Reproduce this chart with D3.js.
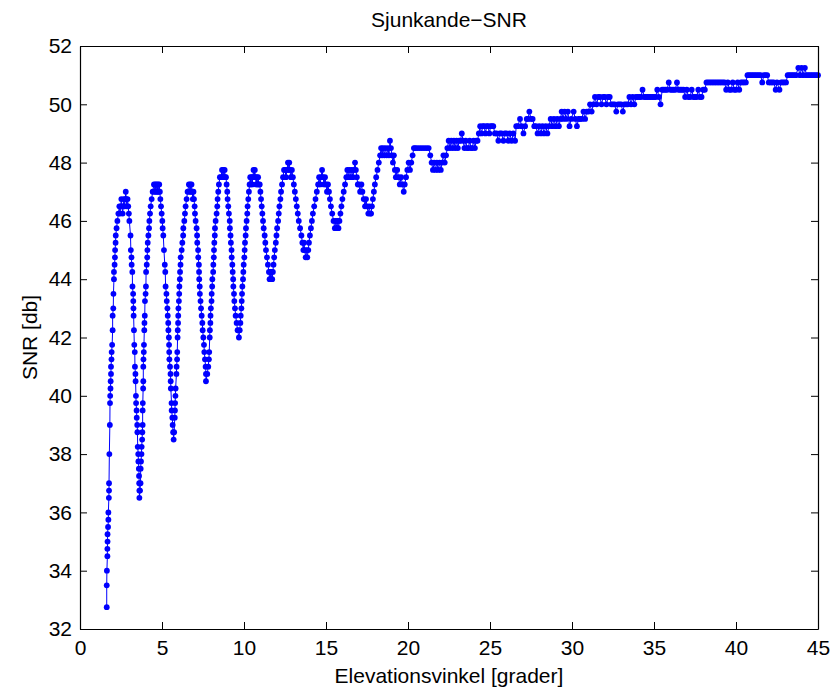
<!DOCTYPE html>
<html>
<head>
<meta charset="utf-8">
<script src="https://cdnjs.cloudflare.com/ajax/libs/d3/7.8.5/d3.min.js"></script>
<style>
  body { margin: 0; background: #fff; }
  text { font-family: "Liberation Sans", Arial, sans-serif; }
</style>
</head>
<body>
<div id="chart"></div>
<script>
var chartTitle = "Sjunkande\u2212SNR";
var xLabel = "Elevationsvinkel [grader]";
var yLabel = "SNR [db]";
var xTicks = [0, 5, 10, 15, 20, 25, 30, 35, 40, 45];
var yTicks = [32, 34, 36, 38, 40, 42, 44, 46, 48, 50, 52];

// [elevation (deg), snr (db)] - oscillating part, low elevations
var lowSamples = [
  [1.63,32.75],[1.63,33.5],[1.64,34],[1.67,34.5],[1.67,34.75],[1.68,35],[1.68,35.25],[1.71,35.5],[1.73,35.75],[1.73,36],
  [1.76,36.5],[1.77,36.75],[1.77,37],[1.79,38],[1.82,39],[1.83,39.75],[1.84,40],[1.86,40.25],[1.87,40.5],[1.89,40.75],
  [1.89,41],[1.92,41.25],[1.93,41.5],[1.96,41.75],[1.99,42.25],[1.99,42.75],[2.03,43],[2.04,43.5],[2.07,44],[2.07,44.25],
  [2.11,44.5],[2.13,44.75],[2.14,45],[2.17,45.25],[2.18,45.5],[2.23,45.75],[2.28,46],[2.34,46.25],[2.4,46.5],
  [2.44,46.25],[2.48,46.5],[2.52,46.75],[2.56,46.5],[2.6,46.25],[2.64,46.5],[2.68,46.75],[2.72,46.5],[2.76,46.75],[2.79,47],
  [2.82,46.75],[2.86,46.5],[2.9,46.75],[2.94,46.5],[2.98,46.25],
  [3.01,46],[3.08,45.5],[3.1,45],[3.14,44.75],[3.15,44.5],[3.19,44.25],[3.2,43.75],[3.24,43.5],[3.25,43.25],[3.26,43],
  [3.27,42.75],[3.29,42.25],[3.31,41.75],[3.34,41.5],[3.35,41],[3.38,40.75],[3.39,40.5],[3.41,40],[3.42,39.75],[3.45,39.5],
  [3.46,39.25],[3.49,39],[3.5,38.75],[3.52,38.25],[3.55,38],[3.56,37.75],[3.59,37.5],[3.6,37.25],[3.61,37],[3.62,36.75],[3.62,36.5],
  [3.66,36.75],[3.69,37],[3.7,37.5],[3.72,37.75],[3.75,38],[3.76,38.25],[3.79,38.5],[3.8,38.75],[3.82,39],[3.82,39.5],
  [3.83,39.75],[3.85,40.25],[3.86,40.5],[3.86,41],[3.87,41.25],[3.89,41.5],[3.9,41.75],[3.92,42.25],[3.93,42.5],[3.95,42.75],
  [3.96,43.25],[4.0,43.5],[4.02,43.75],[4.03,44.25],[4.07,44.5],[4.1,44.75],[4.11,45],[4.13,45.25],[4.17,45.5],[4.21,45.75],
  [4.23,46],[4.27,46.25],[4.31,46.5],[4.37,46.75],[4.43,47],[4.51,47.25],
  [4.55,47],[4.59,47.25],[4.63,47],[4.67,47.25],[4.71,47],[4.75,47.25],[4.79,47],[4.83,47.25],[4.87,47],
  [4.9,46.75],[4.94,46.5],[4.98,46.25],[5.02,46],[5.04,45.75],[5.08,45.5],[5.12,45],[5.17,44.5],[5.2,44.25],[5.22,43.75],
  [5.27,43.5],[5.29,43.25],[5.33,43],[5.35,42.75],[5.38,42.5],[5.39,42.25],[5.42,42],[5.43,41.75],[5.44,41.5],[5.45,41.25],
  [5.49,41],[5.52,40.75],[5.53,40.5],[5.54,40.25],[5.58,39.75],[5.59,39.5],[5.63,39.25],[5.65,39],[5.68,38.75],[5.71,38.5],
  [5.74,38.75],[5.78,39.25],[5.79,39.5],[5.8,39.75],[5.82,40],[5.83,40.25],[5.88,40.75],[5.89,41],[5.92,41.25],[5.93,41.5],
  [5.95,42],[5.96,42.25],[5.98,42.5],[5.99,42.75],[6.0,43],[6.03,43.25],[6.05,43.5],[6.06,43.75],[6.09,44],[6.1,44.25],
  [6.13,44.5],[6.14,44.75],[6.2,45],[6.24,45.25],[6.29,45.5],[6.3,45.75],[6.36,46],[6.4,46.25],[6.44,46.5],[6.5,46.75],
  [6.56,47],[6.64,47.25],
  [6.68,47],[6.72,47.25],[6.76,47],[6.8,47.25],[6.84,47],[6.88,46.75],[6.92,47],[6.95,46.75],
  [6.99,46.5],[7.01,46.25],[7.05,46],[7.11,45.75],[7.14,45.5],[7.15,45.25],[7.2,45],[7.21,44.75],[7.25,44.5],[7.26,44.25],
  [7.27,44],[7.3,43.75],[7.31,43.5],[7.35,43.25],[7.38,43],[7.42,42.75],[7.46,42.5],[7.48,42.25],[7.52,42],[7.56,41.75],
  [7.58,41.5],[7.62,41.25],[7.66,41],[7.68,40.75],[7.68,40.5],
  [7.76,40.75],[7.82,41],[7.86,41.25],[7.88,41.5],[7.91,42],[7.92,42.25],[7.95,42.5],[7.96,42.75],[7.98,43],[8.02,43.25],
  [8.03,43.5],[8.06,43.75],[8.07,44],[8.12,44.25],[8.13,44.5],[8.16,44.75],[8.17,45],[8.19,45.25],[8.22,45.5],[8.23,45.75],
  [8.27,46],[8.33,46.25],[8.37,46.5],[8.39,46.75],[8.43,47],[8.47,47.25],[8.53,47.5],[8.6,47.5],[8.66,47.75],
  [8.7,47.5],[8.74,47.75],[8.78,47.5],[8.82,47.75],[8.86,47.5],[8.9,47.5],
  [8.94,47.25],[8.98,47],[9.0,46.75],[9.04,46.5],[9.08,46.25],[9.13,46],[9.14,45.75],[9.18,45.5],[9.2,45.25],[9.24,45],
  [9.25,44.75],[9.29,44.5],[9.31,44.25],[9.34,44],[9.35,43.75],[9.39,43.5],[9.41,43.25],[9.45,43],[9.49,42.75],[9.55,42.5],
  [9.61,42.25],[9.69,42],
  [9.74,42.25],[9.78,42.5],[9.8,42.75],[9.84,43],[9.86,43.25],[9.88,43.5],[9.9,43.75],[9.94,44],[9.96,44.25],[9.98,44.5],
  [10.02,44.75],[10.04,45],[10.06,45.25],[10.1,45.5],[10.12,45.75],[10.16,46],[10.2,46.25],[10.22,46.5],[10.26,46.75],[10.3,47],
  [10.34,47.25],
  [10.38,47.5],[10.42,47.25],[10.46,47.5],[10.5,47.25],[10.54,47.5],[10.58,47.75],[10.62,47.5],[10.66,47.75],[10.7,47.5],[10.74,47.25],
  [10.78,47.5],[10.82,47.25],[10.86,47.5],[10.9,47.25],[10.96,47.25],[11.0,47],
  [11.04,46.75],[11.08,46.5],[11.12,46.25],[11.16,46],[11.2,45.75],[11.26,45.5],[11.3,45.25],[11.34,45],[11.4,44.75],[11.46,44.5],
  [11.52,44.25],[11.56,44],[11.6,44.25],[11.64,44],[11.68,44.25],[11.72,44],
  [11.76,44.25],[11.8,44.5],[11.84,44.75],[11.88,45],[11.94,45.25],[11.98,45.5],[12.02,45.75],[12.08,46],[12.12,46.25],[12.16,46.5],
  [12.22,46.75],[12.26,47],[12.32,47.25],[12.38,47.5],[12.44,47.75],
  [12.5,47.75],[12.56,47.5],[12.62,47.75],[12.68,48],[12.72,47.75],[12.76,48],[12.8,47.75],[12.86,47.5],[12.92,47.75],[12.98,47.5],
  [13.04,47.25],[13.1,47],[13.16,46.75],[13.22,46.5],[13.28,46.25],[13.34,46],[13.42,45.75],[13.5,45.5],[13.56,45.25],[13.62,45],
  [13.66,45.25],[13.7,45],[13.76,44.75],[13.82,45],[13.86,44.75],
  [13.92,45],[13.96,45.25],[14.02,45.5],[14.08,45.75],[14.14,46],[14.2,46.25],[14.28,46.5],[14.36,46.75],[14.44,47],[14.52,47.25],
  [14.58,47.5],[14.64,47.25],[14.7,47.5],[14.76,47.75],[14.82,47.5],[14.88,47.25],[14.94,47.5],
  [15.0,47.25],[15.06,47],[15.12,47.25],[15.18,47],[15.24,46.75],[15.3,46.5],[15.38,46.25],[15.46,46],[15.54,45.75],[15.6,46],
  [15.66,45.75],[15.72,46],[15.76,45.75],
  [15.82,46],[15.88,46.25],[15.94,46.5],[16.0,46.75],[16.08,47],[16.16,47.25],[16.24,47.5],[16.3,47.75],
  [16.36,47.5],[16.42,47.75],[16.5,47.5],[16.56,47.75],[16.64,47.5],[16.7,47.75],[16.77,48],[16.82,47.75],[16.88,47.5],[16.94,47.25],
  [17.0,47.25],[17.08,47],[17.16,47.25],[17.22,47],[17.3,46.75],[17.38,46.5],[17.44,46.75],[17.5,46.5],[17.58,46.25],[17.64,46.5],
  [17.7,46.25],[17.75,46.25],
  [17.8,46.5],[17.86,46.75],[17.92,47],[17.98,47.25],[18.06,47.5],[18.14,47.75],[18.22,48],[18.3,48.25],
  [18.36,48.5],[18.42,48.25],[18.48,48.5],[18.56,48.25],[18.62,48.5],[18.7,48.25],[18.78,48.5],[18.84,48.25],[18.9,48.75],[18.96,48.5],
  [19.02,48.25],[19.08,48],[19.14,48.25],[19.2,47.75],
  [19.26,47.5],[19.34,47.75],[19.42,47.5],[19.5,47.25],[19.58,47.5],[19.66,47.25],[19.74,47],[19.8,47.25],
  [19.88,47.5],[19.96,47.75],[20.04,48],[20.12,47.75],[20.2,48],[20.28,48.25],[20.36,48.5]
];

// [elevation (deg), snr (db)] - stepped part, high elevations
var highSamples = [
  [20.44,48.5],[20.56,48.5],[20.7,48.5],[20.84,48.5],[20.98,48.5],[21.12,48.5],[21.26,48.5],
  [21.36,48.25],[21.44,48],[21.52,47.75],[21.6,48],[21.68,47.75],[21.76,48],[21.84,47.75],[21.92,48],[22.0,47.75],
  [22.08,48],[22.16,48.25],[22.24,48],[22.32,48.25],[22.4,48.5],[22.48,48.75],[22.56,48.5],[22.64,48.75],[22.72,48.5],[22.8,48.75],
  [22.88,48.5],[22.96,48.75],[23.04,48.5],[23.12,48.75],[23.2,48.75],[23.28,49],[23.36,48.75],[23.44,48.5],[23.52,48.75],[23.6,48.5],
  [23.68,48.5],[23.76,48.75],[23.84,48.5],[23.92,48.5],[24.0,48.75],[24.08,48.5],[24.16,48.75],[24.24,48.75],[24.32,49],[24.4,49.25],
  [24.48,49],[24.56,49.25],[24.64,49.25],[24.72,49],[24.8,49.25],[24.88,49.25],[24.96,49],[25.04,49.25],[25.12,49.25],[25.2,49.25],
  [25.3,49],[25.4,49],[25.51,48.75],[25.6,49],[25.7,49],[25.82,48.75],[25.9,49],[26.0,49],[26.12,48.75],[26.2,49],
  [26.32,48.75],[26.42,49],[26.53,48.75],[26.6,49.25],[26.7,49.25],[26.83,49.5],[26.92,49.25],[27.04,49],[27.14,49.25],[27.24,49.5],
  [27.32,49.5],[27.4,49.75],[27.5,49.5],[27.6,49.5],[27.7,49.25],[27.8,49.25],[27.9,49],[28.0,49.25],[28.1,49],[28.2,49.25],
  [28.3,49],[28.4,49.25],[28.5,49],[28.6,49.25],[28.7,49.5],[28.8,49.25],[28.9,49.5],[29.0,49.25],[29.1,49.5],[29.2,49.25],
  [29.3,49.5],[29.37,49.75],[29.45,49.5],[29.55,49.75],[29.65,49.5],[29.75,49.75],[29.85,49.25],[29.95,49.5],[30.1,49.75],[30.2,49.5],
  [30.3,49.25],[30.4,49.5],[30.5,49.5],[30.6,49.5],[30.7,49.75],[30.8,49.5],[30.9,49.75],[31.0,49.75],[31.1,50],[31.2,49.75],
  [31.3,50],[31.4,50.25],[31.5,50],[31.6,50.25],[31.7,50.25],[31.8,50],[31.9,50.25],[32.0,50.25],[32.1,50],[32.2,50.25],
  [32.3,50.25],[32.4,50],[32.5,50],[32.6,50],[32.7,49.75],[32.8,50],[32.9,50],[33.0,50],[33.1,49.75],[33.2,50],
  [33.3,50],[33.4,50],[33.5,50.25],[33.6,50],[33.7,50.25],[33.8,50],[33.9,50.25],[34.0,50.25],[34.1,50.25],[34.2,50.25],
  [34.3,50.5],[34.4,50.25],[34.5,50.25],[34.6,50.25],[34.7,50.25],[34.8,50.25],[34.9,50.25],[35.0,50.25],[35.1,50.25],[35.2,50.5],
  [35.3,50.25],[35.4,50],[35.5,50.5],[35.6,50.5],[35.7,50.5],[35.8,50.5],[35.9,50.75],[36.0,50.5],[36.1,50.5],[36.2,50.5],
  [36.3,50.5],[36.4,50.75],[36.5,50.5],[36.6,50.5],[36.7,50.5],[36.8,50.5],[36.9,50.25],[37.0,50.5],[37.1,50.25],[37.2,50.25],
  [37.3,50.5],[37.4,50.25],[37.5,50.25],[37.6,50.25],[37.7,50.5],[37.8,50.25],[37.9,50.25],[38.0,50.5],[38.1,50.5],[38.2,50.75],
  [38.3,50.75],[38.4,50.75],[38.5,50.75],[38.6,50.75],[38.7,50.75],[38.8,50.75],[38.9,50.75],[39.0,50.75],[39.1,50.75],[39.2,50.75],
  [39.3,50.75],[39.4,50.5],[39.5,50.75],[39.6,50.5],[39.7,50.5],[39.8,50.75],[39.9,50.5],[40.0,50.5],[40.1,50.75],[40.2,50.5],
  [40.3,50.75],[40.4,50.75],[40.5,50.75],[40.6,50.75],[40.7,51],[40.8,51],[40.9,51],[41.0,51],[41.1,51],[41.2,51],
  [41.3,51],[41.4,51],[41.5,51],[41.6,50.75],[41.7,51],[41.8,51],[41.9,51],[42.0,50.75],[42.1,50.75],[42.2,50.75],
  [42.3,50.75],[42.42,50.5],[42.5,50.75],[42.65,50.5],[42.75,50.75],[42.85,50.75],[42.95,50.75],[43.05,50.75],[43.15,51],[43.25,51],
  [43.35,51],[43.45,51],[43.55,51],[43.65,51],[43.8,51.25],[43.9,51],[44.0,51.25],[44.1,51],[44.2,51.25],[44.3,51],
  [44.4,51],[44.5,51],[44.6,51],[44.7,51],[44.8,51],[44.9,51],[45.0,51]
];

var samples = lowSamples.concat(highSamples);

var margin = {top: 46, right: 17, bottom: 64, left: 80};
var width = 835 - margin.left - margin.right,
    height = 693 - margin.top - margin.bottom;
var fontSize = 21;

var svg = d3.select("#chart")
  .append("svg")
  .attr("width", 835)
  .attr("height", 693)
  .style("display", "block");

var g = svg.append("g")
  .attr("transform", "translate(" + margin.left + "," + margin.top + ")");

var x = d3.scaleLinear().domain([0, 45]).range([0, width]);
var y = d3.scaleLinear().domain([32, 52]).range([height, 0]);

// data line + dot markers
var line = d3.line()
  .x(function(d) { return x(d[0]); })
  .y(function(d) { return y(d[1]); });

g.append("path")
  .datum(samples)
  .attr("fill", "none")
  .attr("stroke", "#0000ff")
  .attr("stroke-width", 1)
  .attr("d", line);

g.selectAll(".dot")
  .data(samples)
  .enter()
  .append("circle")
  .attr("class", "dot")
  .attr("cx", function(d) { return x(d[0]); })
  .attr("cy", function(d) { return y(d[1]); })
  .attr("r", 2.9)
  .attr("fill", "#0000ff");

// axes, ticks pointing inside like matlab
function styleAxis(sel) {
  sel.attr("font-size", fontSize)
    .attr("font-family", "Liberation Sans, Arial, sans-serif");
  sel.select(".domain").attr("stroke", "#000").attr("stroke-width", 1.2);
  sel.selectAll(".tick line").attr("stroke", "#000");
  sel.selectAll(".tick text").attr("fill", "#000");
}

g.append("g")
  .attr("transform", "translate(0," + height + ")")
  .call(d3.axisBottom(x).tickValues(xTicks).tickSizeInner(-7).tickSizeOuter(0).tickPadding(11))
  .call(styleAxis);

g.append("g")
  .call(d3.axisTop(x).tickValues(xTicks).tickSizeInner(-7).tickSizeOuter(0).tickFormat(""))
  .call(styleAxis);

g.append("g")
  .call(d3.axisLeft(y).tickValues(yTicks).tickSizeInner(-7).tickSizeOuter(0).tickPadding(8))
  .call(styleAxis);

g.append("g")
  .attr("transform", "translate(" + width + ",0)")
  .call(d3.axisRight(y).tickValues(yTicks).tickSizeInner(-7).tickSizeOuter(0).tickFormat(""))
  .call(styleAxis);

// titles
svg.append("text")
  .attr("x", margin.left + width / 2)
  .attr("y", 27)
  .attr("text-anchor", "middle")
  .attr("font-size", fontSize)
  .text(chartTitle);

svg.append("text")
  .attr("x", margin.left + width / 2)
  .attr("y", 683)
  .attr("text-anchor", "middle")
  .attr("font-size", fontSize)
  .text(xLabel);

svg.append("text")
  .attr("transform", "translate(37," + (margin.top + height / 2) + ") rotate(-90)")
  .attr("text-anchor", "middle")
  .attr("font-size", fontSize)
  .text(yLabel);
</script>
</body>
</html>
